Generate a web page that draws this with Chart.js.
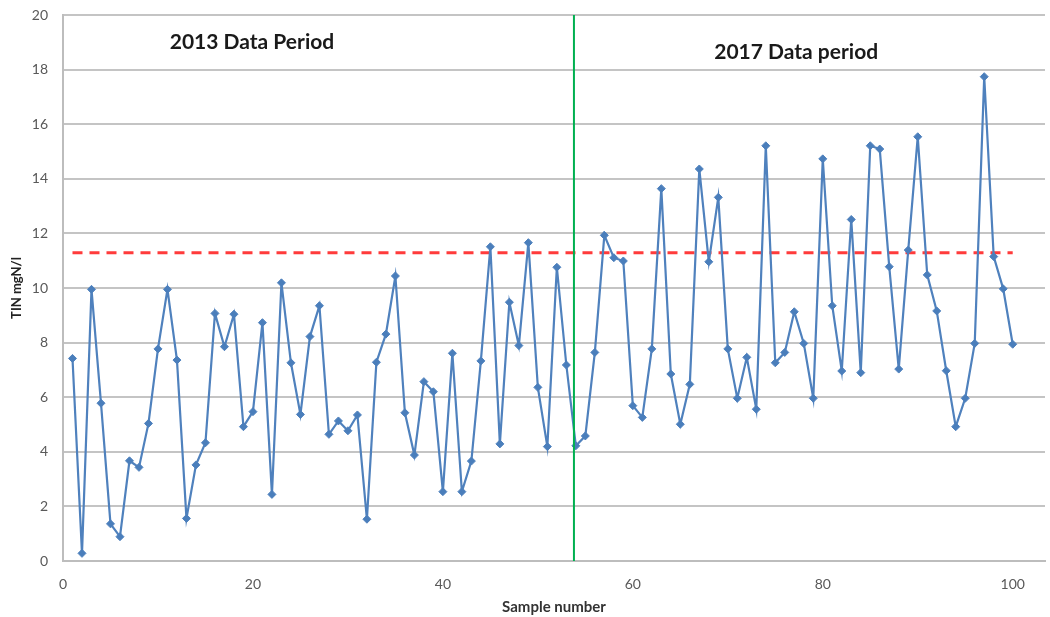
<!DOCTYPE html>
<html>
<head>
<meta charset="utf-8">
<script src="https://cdn.jsdelivr.net/npm/chart.js@4.4.1/dist/chart.umd.min.js"></script>
<style>
  html, body { margin: 0; padding: 0; background: #fff; }
  #wrap { width: 1050px; height: 617px; }
</style>
</head>
<body>
<div id="wrap"><canvas id="tinChart"></canvas></div>
<script>
// sample number (x) and TIN mgN/l (y)
var sampleNo = [1,2,3,4,5,6,7,8,9,10,11,12,13,14,15,16,17,18,19,20,
  21,22,23,24,25,26,27,28,29,30,31,32,33,34,35,36,37,38,39,40,
  41,42,43,44,45,46,47,48,49,50,51,52,53,54,55,56,57,58,59,60,
  61,62,63,64,65,66,67,68,69,70,71,72,73,74,75,76,77,78,79,80,
  81,82,83,84,85,86,87,88,89,90,91,92,93,94,95,96,97,98,99,100];
var tin = [7.42,0.28,9.95,5.78,1.36,0.89,3.67,3.43,5.04,7.77,
  9.95,7.36,1.56,3.52,4.33,9.07,7.85,9.04,4.92,5.47,
  8.73,2.44,10.19,7.26,5.37,8.22,9.35,4.64,5.13,4.77,
  5.35,1.53,7.28,8.31,10.44,5.43,3.88,6.57,6.2,2.54,
  7.61,2.54,3.66,7.33,11.51,4.29,9.48,7.89,11.66,6.36,
  4.19,10.76,7.18,4.22,4.58,7.64,11.93,11.11,10.99,5.69,
  5.26,7.77,13.64,6.85,5.01,6.47,14.36,10.96,13.32,7.77,
  5.96,7.46,5.56,15.21,7.26,7.64,9.13,7.97,5.96,14.73,
  9.35,6.96,12.51,6.9,15.21,15.09,10.78,7.03,11.39,15.54,
  10.48,9.16,6.97,4.92,5.96,7.97,17.74,11.15,9.97,7.94];

// red dashed limit line and green period split
var limitX = [1, 100];
var limitY = [11.29, 11.29];
var splitX = [53.8, 53.8];
var splitY = [0, 20];

var xTicks = [0, 20, 40, 60, 80, 100];
var periodText = ['2013 Data Period', '2017 Data period'];
var periodX = [19.9, 77.2];
var periodY = [19.0, 18.65];

var pts = []
for (var i = 0; i < sampleNo.length; i++) {
  pts.push({ x: sampleNo[i], y: tin[i] })
}
function pairs(xs, ys) {
  return xs.map(function (x, i) { return { x: x, y: ys[i] } })
}

var tickFont = { family: 'Lato', size: 14 };
var tickColor = '#595959';

// period labels drawn inside the plot area
var periodLabels = {
  id: 'periodLabels',
  afterDatasetsDraw: function (chart) {
    var ctx = chart.ctx, xs = chart.scales.x, ys = chart.scales.y;
    ctx.save();
    ctx.font = 'bold 21px Lato';
    ctx.fillStyle = '#1a1a1a';
    ctx.textAlign = 'center';
    ctx.textBaseline = 'middle';
    for (var i = 0; i < periodText.length; i++) {
      ctx.fillText(periodText[i], xs.getPixelForValue(periodX[i]), ys.getPixelForValue(periodY[i]));
    }
    ctx.restore();
  }
};

var ctx = document.getElementById('tinChart').getContext('2d');
var chart = new Chart(ctx, {
  type: 'scatter',
  data: {
    datasets: [
      {
        label: 'TIN',
        data: pts,
        showLine: true,
        borderColor: '#4f81bd',
        borderWidth: 2.2,
        backgroundColor: '#4a7ebb',
        pointStyle: 'rectRot',
        pointRadius: 4,
        pointBorderWidth: 1,
        order: 1
      },
      {
        label: 'limit',
        data: pairs(limitX, limitY),
        showLine: true,
        borderColor: '#ff3b3b',
        borderWidth: 3,
        borderDash: [10, 7],
        pointRadius: 0,
        order: 2
      },
      {
        label: 'split',
        data: pairs(splitX, splitY),
        showLine: true,
        borderColor: '#00b050',
        borderWidth: 2,
        pointRadius: 0,
        order: 0
      }
    ]
  },
  options: {
    responsive: true,
    maintainAspectRatio: false,
    animation: false,
    layout: { padding: { top: 15, right: 2, left: 0, bottom: 0 } },
    plugins: {
      legend: { display: false },
      tooltip: { enabled: false }
    },
    scales: {
      x: {
        type: 'linear',
        min: 0,
        max: 103.4,
        afterBuildTicks: function (axis) {
          axis.ticks = xTicks.map(function (v) { return { value: v } })
        },
        afterFit: function (axis) {
          axis.height = 56
          axis.paddingLeft = 0
          axis.paddingRight = 0
        },
        grid: { display: false, drawTicks: false },
        border: { display: true, color: '#bdbdbd', width: 2 },
        ticks: { font: tickFont, color: tickColor, padding: 15, maxRotation: 0 },
        title: {
          display: true,
          text: 'Sample number',
          font: { family: 'Lato', size: 15, weight: 'bold' },
          color: '#333',
          padding: { top: 0, bottom: 1 }
        }
      },
      y: {
        min: 0,
        max: 20,
        afterFit: function (axis) {
          axis.width = 63
          axis.paddingTop = 0
          axis.paddingBottom = 0
        },
        ticks: { stepSize: 2, font: tickFont, color: tickColor, padding: 15 },
        grid: { color: '#c4c4c4', lineWidth: 2, drawTicks: false },
        border: { display: true, color: '#bdbdbd', width: 2 },
        title: {
          display: true,
          text: 'TIN mgN/l',
          font: { family: 'Lato', size: 13, weight: 'bold' },
          color: '#222',
          padding: { top: 9, bottom: 0 }
        }
      }
    }
  },
  plugins: [periodLabels]
});
</script>
</body>
</html>
